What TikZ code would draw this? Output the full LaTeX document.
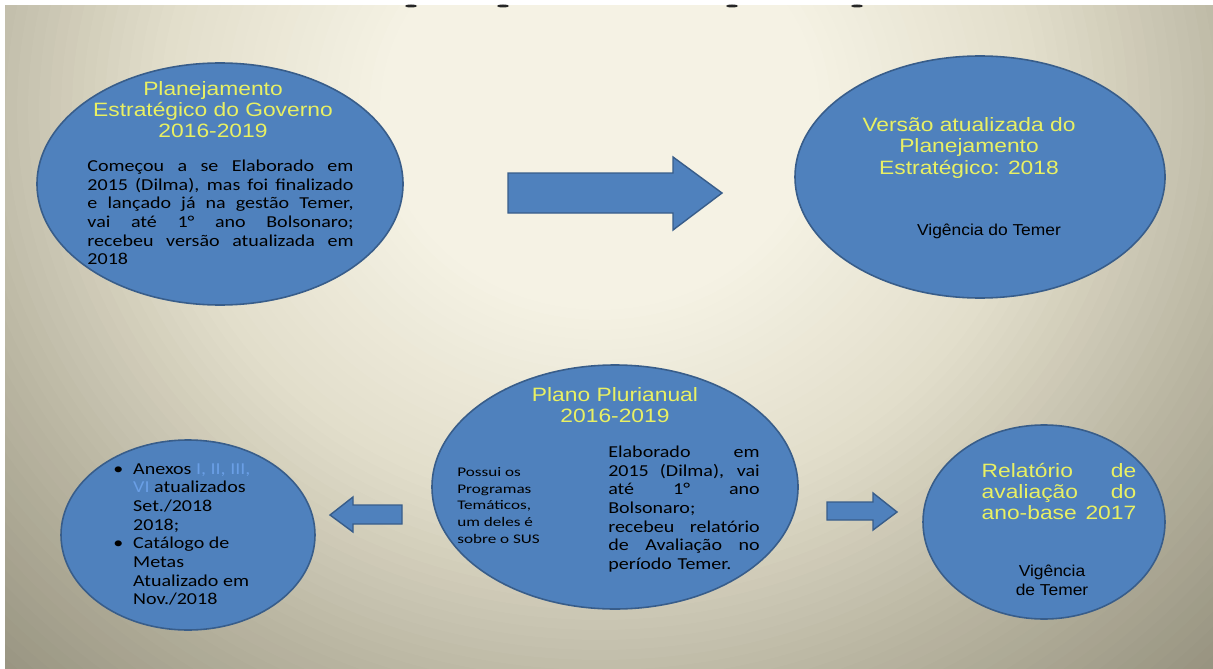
\documentclass[tikz,border=0pt]{standalone}
\usepackage{fontspec}
\setmainfont{Liberation Sans}
\newfontfamily\tfont[FakeStretch=1.18]{Liberation Sans}
\newfontfamily\bfont[FakeStretch=1.2]{Carlito}
\newfontfamily\sfont[FakeStretch=1.3]{Carlito}
\newfontfamily\vfont[FakeStretch=1.1]{Liberation Sans}
\usetikzlibrary{shapes.geometric}
\definecolor{fillblue}{HTML}{4F81BD}
\definecolor{edgeblue}{HTML}{385D8A}
\definecolor{ttl}{HTML}{E9F063}
\definecolor{annexblue}{HTML}{6A9FE6}
\definecolor{bgA}{HTML}{F5F2E4}
\definecolor{bgB}{HTML}{E2DECB}
\definecolor{bgC}{HTML}{B9B5A1}
\definecolor{bgD}{HTML}{96927F}
\definecolor{bgE}{HTML}{8A8774}
\newcommand{\jl}[2]{\makebox[#1][s]{\spaceskip=0pt\xspaceskip=0pt\relax #2}\\}
\newcommand{\jlast}[2]{\makebox[#1][s]{\spaceskip=0pt\xspaceskip=0pt\relax #2}}
\tikzset{
  ell/.style 2 args={ellipse, draw=edgeblue, fill=fillblue, line width=0.9pt,
    minimum width=#1*0.02cm, minimum height=#2*0.02cm, inner sep=0pt},
  blockarrow/.style={draw=edgeblue, fill=fillblue, line width=0.8pt, line join=miter},
  ttltext/.style={text=ttl, font=\tfont\fontsize{11}{12}\selectfont, inner sep=0pt, align=center},
  bodytext/.style={text=black, font=\bfont\fontsize{9.5}{10.6}\selectfont, inner sep=0pt},
  smalltext/.style={text=black, font=\sfont\fontsize{7.5}{9.6}\selectfont, inner sep=0pt, align=left},
  vigtext/.style={text=black, font=\vfont\fontsize{9}{10.8}\selectfont, inner sep=0pt, align=center},
}
\begin{document}
\begin{tikzpicture}[x=0.02cm, y=-0.02cm]
\useasboundingbox (0,0) rectangle (1213,669);
\fill[white] (0,0) rectangle (1213,669);
% background: concentric rings approximating the radial gradient
\begin{scope}
  \clip (5,6) rectangle (1213,669);
  \fill[bgE] (5,6) rectangle (1213,669);
  \foreach \r in {900,890,...,10}{
    \pgfmathsetmacro{\rr}{\r}
    \ifdim\rr pt>800pt
      \pgfmathsetmacro{\p}{(\rr-800)}\colorlet{ringc}{bgE!\p!bgD}%
    \else\ifdim\rr pt>600pt
      \pgfmathsetmacro{\p}{(\rr-600)/2}\colorlet{ringc}{bgD!\p!bgC}%
    \else\ifdim\rr pt>400pt
      \pgfmathsetmacro{\p}{(\rr-400)/2}\colorlet{ringc}{bgC!\p!bgB}%
    \else\ifdim\rr pt>200pt
      \pgfmathsetmacro{\p}{(\rr-200)/2}\colorlet{ringc}{bgB!\p!bgA}%
    \else
      \colorlet{ringc}{bgA}%
    \fi\fi\fi\fi
    \fill[ringc] (600,110) ellipse[x radius=\r*0.022cm, y radius=\r*0.02cm];
  }
\end{scope}
% cut-off title fragments at the top edge
\foreach \fx in {411,503,732,857}
  \fill[black!85] (\fx,6) ellipse[x radius=0.12cm, y radius=0.03cm];

% ellipses
\node[ell={366}{242}] (e1) at (220,184) {};
\node[ell={370}{242}] (e2) at (980,177) {};
\node[ell={254}{190}] (e3) at (188,535) {};
\node[ell={366}{244}] (e4) at (615,487) {};
\node[ell={242}{194}] (e5) at (1044,522) {};

% block arrows
\draw[blockarrow] (508,173) -- (673,173) -- (673,157) -- (722,193) -- (673,230) -- (673,213) -- (508,213) -- cycle;
\draw[blockarrow] (402,505) -- (353,505) -- (353,497) -- (330,515) -- (353,532) -- (353,524) -- (402,524) -- cycle;
\draw[blockarrow] (827,502) -- (873,502) -- (873,493) -- (897,512) -- (873,530) -- (873,520) -- (827,520) -- cycle;

% texts ellipse 1
\node[ttltext] (t1) at (213,110) {Planejamento\\Estratégico do Governo\\2016-2019};
\node[bodytext, text width=151.4pt, align=left] (b1) at (220.5,212.5) {%
\jl{151.4pt}{Começou a se Elaborado em}%
\jl{151.4pt}{2015 (Dilma), mas foi finalizado}%
\jl{151.4pt}{e lançado já na gestão Temer,}%
\jl{151.4pt}{vai até 1° ano Bolsonaro;}%
\jl{151.4pt}{recebeu versão atualizada em}%
2018};

% texts ellipse 2
\node[ttltext] (t2) at (969,148) {Versão atualizada do\\Planejamento\\Estratégico: 2018};
\node[vigtext] (b2) at (989,231) {Vigência do Temer};

% texts ellipse 3
\node[bodytext, align=left, anchor=west] (b3) at (113,534.5) {%
\makebox[11.3pt][l]{•}Anexos \textcolor{annexblue}{I, II, III,}\\
\hspace*{11.3pt}\textcolor{annexblue}{VI} atualizados\\
\hspace*{11.3pt}Set./2018\\
\hspace*{11.3pt}2018;\\
\makebox[11.3pt][l]{•}Catálogo de\\
\hspace*{11.3pt}Metas\\
\hspace*{11.3pt}Atualizado em\\
\hspace*{11.3pt}Nov./2018};

% texts ellipse 4
\node[ttltext] (t4) at (615,405) {Plano Plurianual\\2016-2019};
\node[smalltext, anchor=west] (s4) at (457,505.5) {Possui os\\Programas\\Temáticos,\\um deles é\\sobre o SUS};
\node[bodytext, text width=86.2pt, align=left] (b4) at (684,509) {%
\jl{86.2pt}{Elaborado em}%
\jl{86.2pt}{2015 (Dilma), vai}%
\jl{86.2pt}{até 1° ano}%
Bolsonaro;\\
\jl{86.2pt}{recebeu relatório}%
\jl{86.2pt}{de Avaliação no}%
período Temer.};

% texts ellipse 5
\node[ttltext, text width=88pt, align=left] (t5) at (1059,491.5) {%
\jl{88pt}{Relatório de}%
\jl{88pt}{avaliação do}%
\jlast{88pt}{ano-base 2017}};
\node[vigtext] (b5) at (1052,580.5) {Vigência\\de Temer};
\end{tikzpicture}
\end{document}
